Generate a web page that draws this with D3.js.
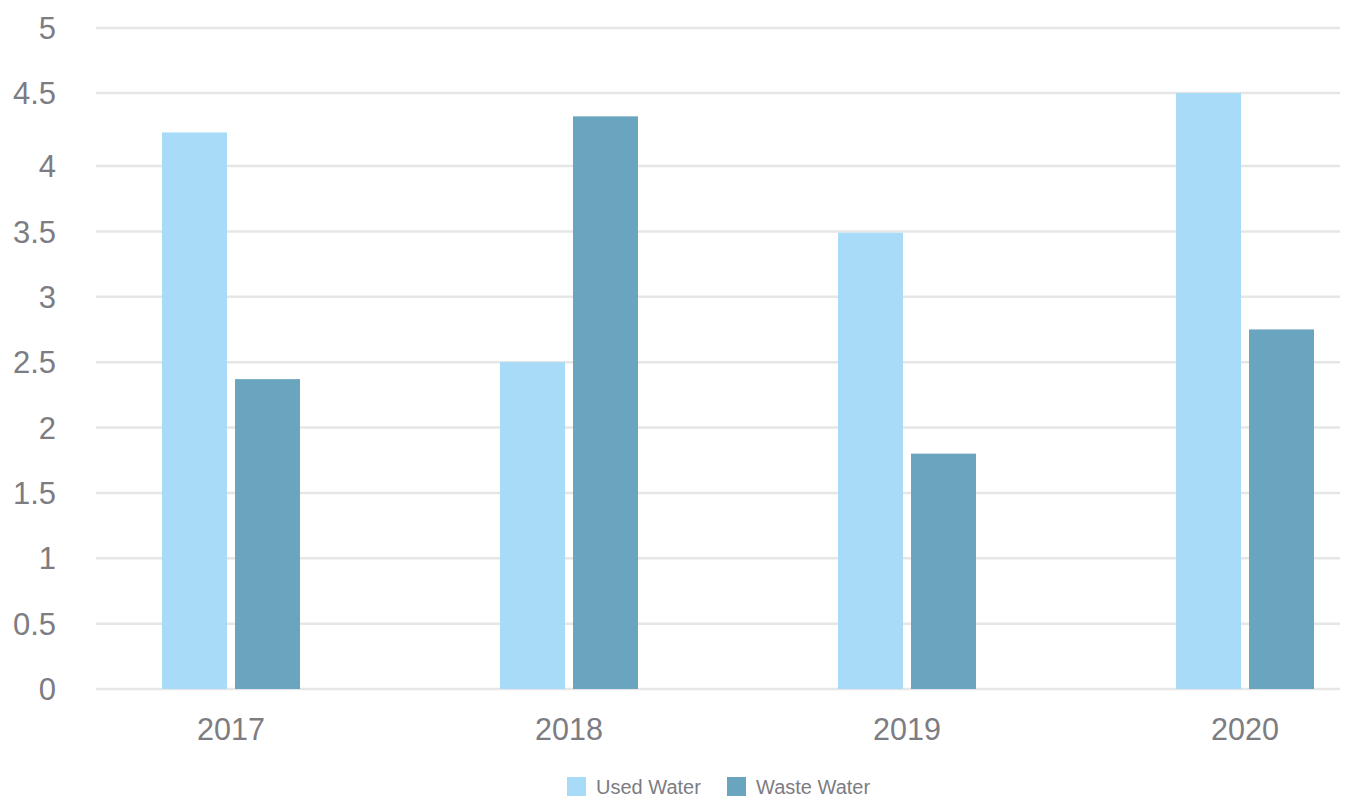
<!DOCTYPE html>
<html><head><meta charset="utf-8">
<script src="https://cdn.jsdelivr.net/npm/d3@7"></script>
<style>body{margin:0;background:#fff}svg{display:block}text{font-family:"Liberation Sans",Arial,sans-serif;fill:#7c7c82}</style>
</head><body>
<svg id="c" width="1347" height="798"></svg>
<script>
const years = ["2017","2018","2019","2020"];
const series = ["Used Water","Waste Water"];
const usedWater = [4.23, 2.50, 3.49, 4.50];
const wasteWater = [2.37, 4.34, 1.80, 2.75];
const yTicks = [0,0.5,1,1.5,2,2.5,3,3.5,4,4.5,5];
const colors = ["#a7dbf8","#6aa5bf"];

const svg = d3.select("#c");
const y = d3.scaleLinear().domain([0,4,4.5,5]).range([689,166,93,28]);
const x0 = d3.scaleBand().domain(years).range([62,1414]).padding(0);
const x1 = d3.scaleBand().domain(series).range([x0.bandwidth()/2-69, x0.bandwidth()/2+69]).paddingInner(8/73).paddingOuter(0);
const color = d3.scaleOrdinal().domain(series).range(colors);

// gridlines
svg.append("g").selectAll("line").data(yTicks).join("line")
  .attr("x1",96).attr("x2",1340)
  .attr("y1",d=>y(d)).attr("y2",d=>y(d))
  .attr("stroke","#e6e6e6").attr("stroke-width",2.5);

// y labels
svg.append("g").selectAll("text").data(yTicks).join("text")
  .attr("x",56).attr("y",d=>y(d)).attr("dy","0.36em")
  .attr("text-anchor","end").attr("font-size",31)
  .text(d=>d);

// bars
const data = years.map((yr,i)=>({year:yr, vals:[{s:series[0],v:usedWater[i]},{s:series[1],v:wasteWater[i]}]}));
const g = svg.append("g").selectAll("g").data(data).join("g")
  .attr("transform",d=>`translate(${x0(d.year)},0)`);
g.selectAll("rect").data(d=>d.vals).join("rect")
  .attr("x",d=>x1(d.s)).attr("width",x1.bandwidth())
  .attr("y",d=>y(d.v)).attr("height",d=>y(0)-y(d.v))
  .attr("fill",d=>color(d.s));

// x labels
svg.append("g").selectAll("text").data(years).join("text")
  .attr("x",d=>x0(d)+x0.bandwidth()/2).attr("y",740)
  .attr("text-anchor","middle").attr("font-size",30.5)
  .text(d=>d);

// legend
const legX = [567,727];
const lg = svg.append("g").selectAll("g").data(series).join("g")
  .attr("transform",(d,i)=>`translate(${legX[i]},777)`);
lg.append("rect").attr("width",19).attr("height",19).attr("fill",d=>color(d));
lg.append("text").attr("x",29).attr("y",9.5).attr("dy","0.36em").attr("font-size",20).text(d=>d);
</script>
</body></html>
